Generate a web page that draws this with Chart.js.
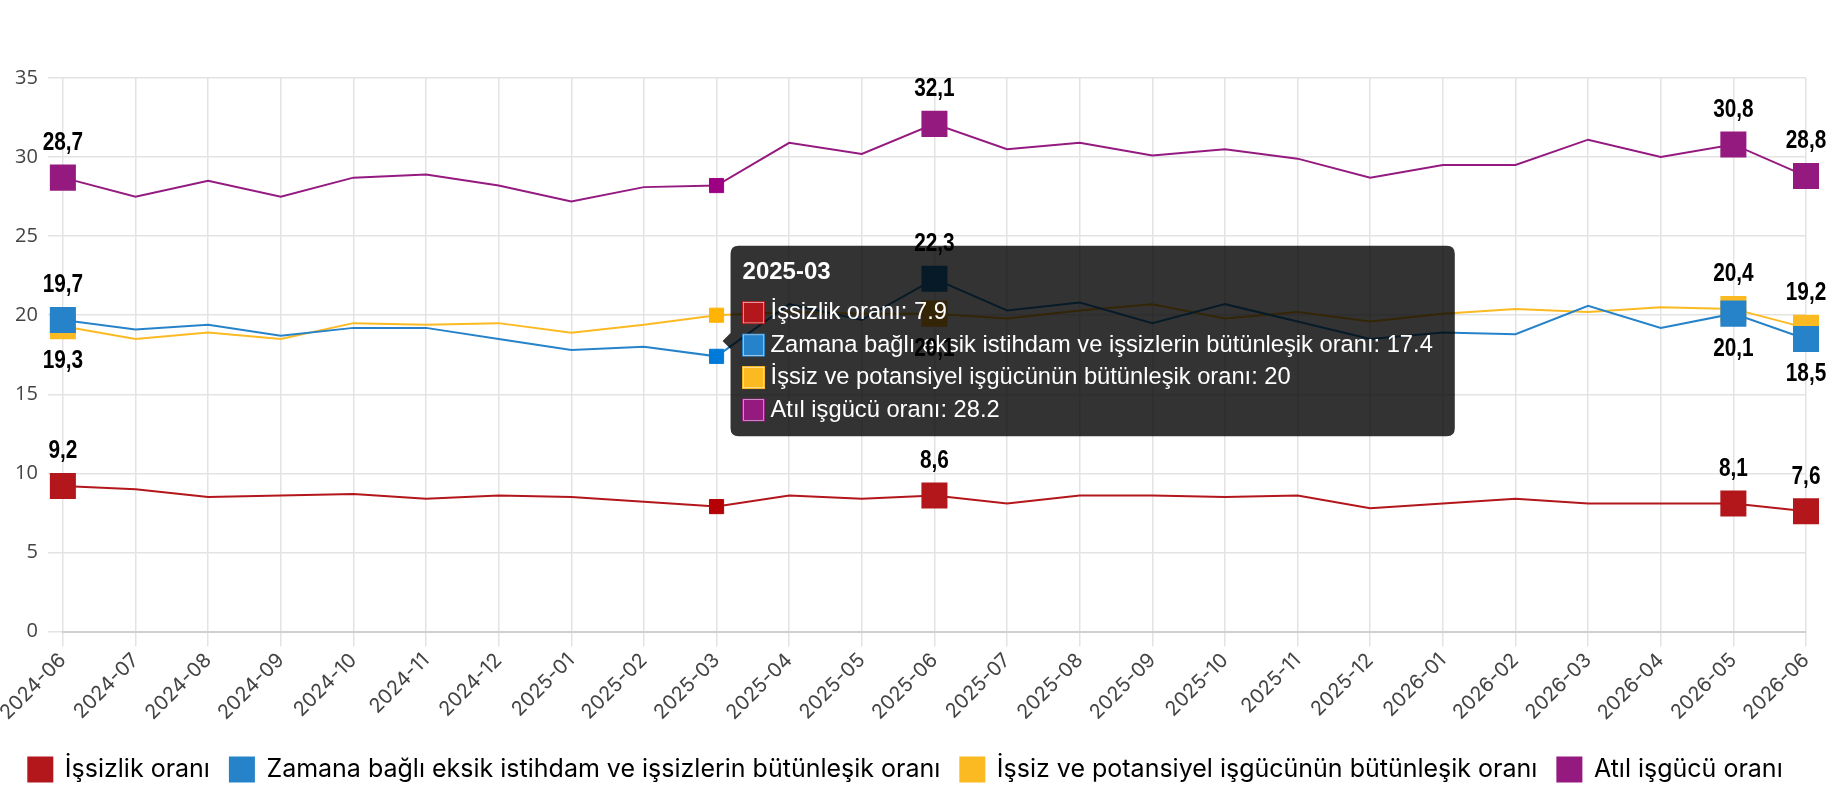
<!DOCTYPE html>
<html lang="tr">
<head>
<meta charset="utf-8">
<title>İşgücü göstergeleri</title>
<script src="https://cdn.jsdelivr.net/npm/chart.js@4.4.1/dist/chart.umd.min.js"></script>
<style>
  html, body { margin: 0; padding: 0; background: #fff; }
  #wrap { width: 1830px; height: 800px; position: relative; }
</style>
</head>
<body>
<div id="wrap"><canvas id="chart"></canvas></div>
<script>
// months on the x axis
const months = ['2024-06', '2024-07', '2024-08', '2024-09', '2024-10', '2024-11', '2024-12',
  '2025-01', '2025-02', '2025-03', '2025-04', '2025-05', '2025-06', '2025-07', '2025-08',
  '2025-09', '2025-10', '2025-11', '2025-12', '2026-01', '2026-02', '2026-03', '2026-04',
  '2026-05', '2026-06'];

const unemployment = [9.2, 9.0, 8.5, 8.6, 8.7, 8.4, 8.6, 8.5, 8.2, 7.9, 8.6, 8.4, 8.6,
  8.1, 8.6, 8.6, 8.5, 8.6, 7.8, 8.1, 8.4, 8.1, 8.1, 8.1, 7.6];
const timeRelated = [19.7, 19.1, 19.4, 18.7, 19.2, 19.2, 18.5, 17.8, 18.0, 17.4, 20.7, 19.7, 22.3,
  20.3, 20.8, 19.5, 20.7, 19.6, 18.5, 18.9, 18.8, 20.6, 19.2, 20.1, 18.5];
const potentialLabour = [19.3, 18.5, 18.9, 18.5, 19.5, 19.4, 19.5, 18.9, 19.4, 20.0, 20.2, 20.1, 20.1,
  19.8, 20.3, 20.7, 19.8, 20.2, 19.6, 20.1, 20.4, 20.2, 20.5, 20.4, 19.2];
const underutilization = [28.7, 27.5, 28.5, 27.5, 28.7, 28.9, 28.2, 27.2, 28.1, 28.2, 30.9, 30.2, 32.1,
  30.5, 30.9, 30.1, 30.5, 29.9, 28.7, 29.5, 29.5, 31.1, 30.0, 30.8, 28.8];

const seriesNames = ['İşsizlik oranı',
  'Zamana bağlı eksik istihdam ve işsizlerin bütünleşik oranı',
  'İşsiz ve potansiyel işgücünün bütünleşik oranı',
  'Atıl işgücü oranı'];
const seriesColors = ['#B3161B', '#2783C9', '#FCBA22', '#951A80'];

// points that get a big marker and a value label
const labeledPoints = [0, 12, 23, 24];
const hoverIndex = 9;

const allSeries = [unemployment, timeRelated, potentialLabour, underutilization];

const pointLabels = {
  id: 'pointLabels',
  afterDraw(chart) {
    const ctx = chart.ctx;
    chart.data.datasets.forEach((ds, di) => {
      const meta = chart.getDatasetMeta(di);
      labeledPoints.forEach(i => {
        const v = ds.data[i];
        const pt = meta.data[i];
        // put the label under the point when a close series sits above it
        const below = chart.data.datasets.some((o, oi) => oi !== di && o.data[i] > v && o.data[i] - v < 3);
        ctx.save();
        ctx.translate(pt.x, below ? pt.y + 35 : pt.y - 35);
        ctx.scale(0.8, 1); // narrow bold look
        ctx.font = 'bold 26px "Liberation Sans", Arial, sans-serif';
        ctx.fillStyle = '#000';
        ctx.textAlign = 'center';
        ctx.textBaseline = 'middle';
        ctx.fillText(v.toLocaleString('tr-TR'), 0, 0);
        ctx.restore();
      });
    });
  }
};

const datasets = allSeries.map((vals, i) => ({
  label: seriesNames[i],
  data: vals,
  borderColor: seriesColors[i],
  backgroundColor: seriesColors[i],
  borderWidth: 2,
  pointStyle: 'rect',
  pointRadius: c => labeledPoints.includes(c.dataIndex) ? 17 : 0,
  pointHoverRadius: c => labeledPoints.includes(c.dataIndex) ? 17 : 10,
  tension: 0
}));

const gridColor = '#e3e3e3';

const chart = new Chart(document.getElementById('chart'), {
  type: 'line',
  data: { labels: months, datasets: datasets },
  options: {
    responsive: true,
    maintainAspectRatio: false,
    animation: false,
    locale: 'en-US',
    layout: { padding: { top: 78, right: 24, left: 5, bottom: 8 } },
    interaction: { mode: 'index', intersect: false },
    scales: {
      x: {
        afterFit: s => { s.height += 10; },
        grid: { color: gridColor, lineWidth: 1.5, tickLength: 15 },
        border: { color: '#cfcfd4', width: 2 },
        ticks: {
          autoSkip: false, minRotation: 45, maxRotation: 45, padding: 2,
          color: '#444', font: { family: 'Inter', size: 20 }
        }
      },
      y: {
        min: 0, max: 35,
        grid: { color: gridColor, lineWidth: 1.5, tickLength: 15 },
        border: { display: false },
        ticks: {
          stepSize: 5, padding: 10,
          color: '#444', font: { family: 'Open Sans', size: 20 }
        }
      }
    },
    plugins: {
      legend: {
        position: 'bottom',
        labels: {
          boxWidth: 24, boxHeight: 24, padding: 20,
          color: '#000', font: { family: 'Inter', size: 25 }
        }
      },
      tooltip: {
        mode: 'index', intersect: false, position: 'average',
        xAlign: 'left', yAlign: 'center',
        backgroundColor: 'rgba(0,0,0,0.8)',
        titleFont: { family: 'Liberation Sans', size: 24, weight: 'bold' },
        bodyFont: { family: 'Liberation Sans', size: 23.7 },
        padding: { top: 12, bottom: 12, left: 12, right: 22 },
        cornerRadius: 8, caretSize: 8, caretPadding: 6,
        titleMarginBottom: 12, bodySpacing: 4,
        boxWidth: 22, boxHeight: 22, boxPadding: 4,
        callbacks: {
          labelColor: c => ({ borderColor: seriesColors[c.datasetIndex], backgroundColor: seriesColors[c.datasetIndex] })
        }
      }
    }
  },
  plugins: [pointLabels]
});

// show the hover state at 2025-03 like in the picture
const active = datasets.map((d, i) => ({ datasetIndex: i, index: hoverIndex }));
chart.setActiveElements(active);
chart.tooltip.setActiveElements(active, { x: 0, y: 0 });
chart.update();
</script>
</body>
</html>
